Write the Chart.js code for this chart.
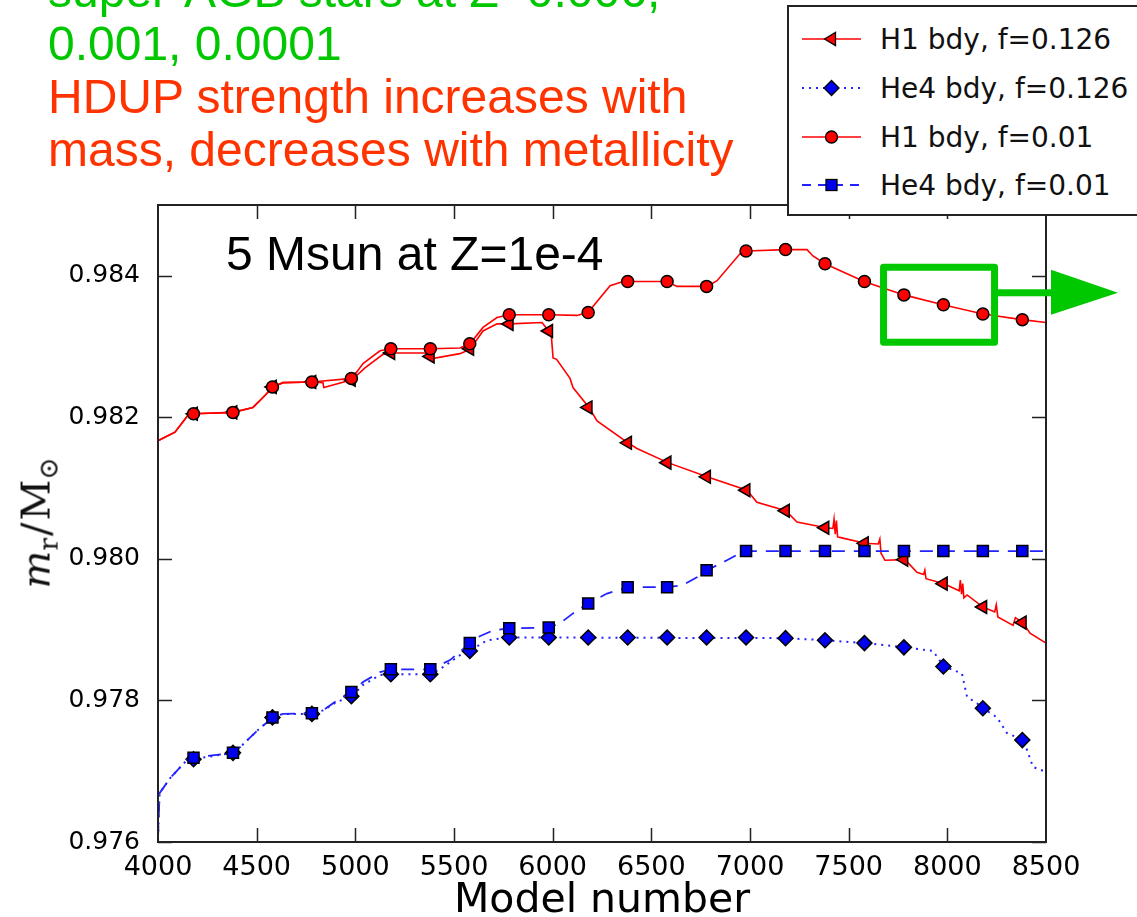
<!DOCTYPE html>
<html>
<head>
<meta charset="utf-8">
<script src="https://cdn.jsdelivr.net/npm/chart.js@4.4.1/dist/chart.umd.min.js"></script>
<style>
html,body{margin:0;padding:0;background:#fff;width:1137px;height:917px;overflow:hidden;}
#wrap{position:relative;width:1137px;height:917px;overflow:hidden;}
#c{position:absolute;left:0;top:0;}
#notes{position:absolute;left:48px;top:-36px;font-family:'Liberation Sans',Arial,sans-serif;font-size:48px;line-height:53px;white-space:nowrap;}
.g{color:#00c800;}
.r{color:#ff3300;}
#inplot{position:absolute;left:226px;top:230px;font-family:'Liberation Sans',Arial,sans-serif;font-size:48px;line-height:48px;color:#000;white-space:nowrap;}
#ylab{position:absolute;left:38px;top:523px;transform:translate(-50%,-50%) rotate(-90deg);font-family:'DejaVu Serif',serif;font-size:40px;white-space:nowrap;color:#111;}
#ylab sub{font-size:0.66em;vertical-align:-0.3em;}
#ylab .sl{margin:0 2px;}
#legend{position:absolute;left:787px;top:5px;width:400px;height:207px;border:2px solid #222;background:#fff;}
.lrow{position:absolute;left:0;height:40px;display:flex;align-items:center;}
.lrow svg{margin-left:13px;margin-right:19px;}
.lrow span{font-family:'DejaVu Sans',sans-serif;font-size:28px;color:#111;white-space:nowrap;}
</style>
</head>
<body>
<div id="wrap">
<canvas id="c" width="1137" height="917"></canvas>
<div id="notes"><span class="g">super-AGB stars at Z=0.006,</span><br><span class="g">0.001, 0.0001</span><br><span class="r">HDUP strength increases with</span><br><span class="r">mass, decreases with metallicity</span></div>
<div id="inplot">5 Msun at Z=1e-4</div>
<div id="ylab"><i>m</i><sub>r</sub><span class="sl">/</span>M<sub>⊙</sub></div>
<div id="legend"></div>
</div>
<script>
// ---------- data ----------
const seriesNames = ['H1 bdy, f=0.126', 'He4 bdy, f=0.126', 'H1 bdy, f=0.01', 'He4 bdy, f=0.01'];
const xTicks = [4000, 4500, 5000, 5500, 6000, 6500, 7000, 7500, 8000, 8500];
const yTicks = [0.976, 0.978, 0.980, 0.982, 0.984];

const markerModels = [4180,4380,4580,4780,4980,5180,5380,5580,5780,5980,6180,6380,6580,6780,6980,7180,7380,7580,7780,7980,8180,8380];

const h1_f0126_markers = [0.98205,0.98207,0.98243,0.98250,0.98253,0.98291,0.98286,0.98297,0.98332,0.98322,0.98214,0.98164,0.98136,0.98116,0.98097,0.98068,0.98044,0.98022,0.97999,0.97965,0.97932,0.97910];
const he4_f0126_markers = [0.97717,0.97726,0.97776,0.97781,0.97806,0.97837,0.97837,0.97870,0.97889,0.97889,0.97889,0.97889,0.97889,0.97889,0.97889,0.97888,0.97885,0.97881,0.97875,0.97848,0.97789,0.97744];
const h1_f001_markers = [0.98205,0.98207,0.98243,0.98250,0.98255,0.98297,0.98297,0.98304,0.98345,0.98345,0.98348,0.98392,0.98392,0.98385,0.98435,0.98437,0.98417,0.98392,0.98373,0.98359,0.98346,0.98338];
const he4_f001_markers = [0.97719,0.97726,0.97776,0.97782,0.97812,0.97844,0.97844,0.97881,0.97902,0.97903,0.97937,0.97960,0.97960,0.97984,0.98011,0.98011,0.98011,0.98011,0.98011,0.98011,0.98011,0.98011];

const h1_f0126_line = [[4000,0.98167],[4086,0.98179],[4152,0.98203],[4180,0.98205],[4380,0.98207],[4481,0.98214],[4532,0.98228],[4583,0.98243],[4633,0.98249],[4780,0.98250],[4836,0.98249],[4840,0.98242],[4983,0.98253],[5049,0.98270],[5140,0.98289],[5181,0.98291],[5353,0.98291],[5389,0.98283],[5530,0.98290],[5581,0.98296],[5647,0.98322],[5718,0.98332],[5779,0.98332],[5946,0.98334],[5971,0.98325],[5992,0.98320],[6002,0.98284],[6020,0.98282],[6088,0.98255],[6103,0.98242],[6184,0.98214],[6225,0.98195],[6382,0.98164],[6427,0.98156],[6584,0.98136],[6782,0.98116],[6985,0.98097],[7035,0.98080],[7182,0.98068],[7238,0.98052],[7385,0.98044],[7420,0.98043],[7426,0.98056],[7432,0.98035],[7438,0.98054],[7444,0.98031],[7460,0.98030],[7583,0.98022],[7650,0.98021],[7658,0.98028],[7664,0.98008],[7684,0.97998],[7786,0.97999],[7846,0.97981],[7880,0.97978],[7886,0.97984],[7892,0.97972],[7983,0.97965],[8060,0.97955],[8066,0.97970],[8072,0.97950],[8078,0.97965],[8084,0.97945],[8100,0.97949],[8181,0.97932],[8240,0.97925],[8248,0.97935],[8256,0.97918],[8333,0.97906],[8345,0.97917],[8383,0.97910],[8419,0.97895],[8500,0.97881]];
const he4_f0126_line = [[4000,0.97605],[4008,0.97669],[4061,0.97690],[4147,0.97716],[4180,0.97717],[4380,0.97726],[4416,0.97734],[4517,0.97761],[4583,0.97776],[4633,0.97781],[4780,0.97781],[4836,0.97786],[4907,0.97798],[4983,0.97806],[5039,0.97822],[5125,0.97836],[5181,0.97837],[5383,0.97837],[5444,0.97847],[5546,0.97867],[5581,0.97870],[5667,0.97885],[5779,0.97889],[7182,0.97888],[7385,0.97885],[7583,0.97881],[7786,0.97875],[7927,0.97870],[7983,0.97848],[8074,0.97838],[8100,0.97805],[8150,0.97796],[8181,0.97789],[8252,0.97776],[8302,0.97754],[8383,0.97744],[8404,0.97730],[8434,0.97706],[8500,0.97699]];
const h1_f001_line = [[4000,0.98167],[4086,0.98179],[4152,0.98203],[4180,0.98205],[4380,0.98207],[4481,0.98214],[4532,0.98228],[4583,0.98243],[4633,0.98249],[4780,0.98250],[4983,0.98255],[5039,0.98276],[5125,0.98294],[5181,0.98297],[5383,0.98297],[5530,0.98298],[5581,0.98304],[5647,0.98327],[5718,0.98341],[5779,0.98345],[5981,0.98345],[6123,0.98344],[6179,0.98348],[6291,0.98386],[6357,0.98392],[6579,0.98392],[6630,0.98385],[6782,0.98385],[6833,0.98393],[6949,0.98431],[6980,0.98435],[7182,0.98437],[7289,0.98437],[7319,0.98428],[7380,0.98417],[7578,0.98392],[7780,0.98373],[7978,0.98359],[8181,0.98346],[8378,0.98338],[8500,0.98334]];
const he4_f001_line = [[4000,0.97605],[4008,0.97669],[4061,0.97690],[4147,0.97716],[4180,0.97719],[4380,0.97726],[4416,0.97734],[4517,0.97761],[4583,0.97776],[4633,0.97781],[4780,0.97782],[4836,0.97786],[4907,0.97800],[4983,0.97812],[5039,0.97826],[5125,0.97840],[5181,0.97844],[5383,0.97844],[5480,0.97857],[5581,0.97881],[5617,0.97889],[5698,0.97899],[5779,0.97902],[5981,0.97903],[6037,0.97909],[6103,0.97923],[6179,0.97937],[6275,0.97951],[6382,0.97960],[6579,0.97960],[6660,0.97963],[6731,0.97974],[6782,0.97984],[6883,0.97998],[6949,0.98008],[6980,0.98011],[8500,0.98011]];

// ---------- styles ----------
const RED = '#ff0000', BLUE = '#0000f0', BLUE_LINE = '#2222ff';
const toXY = arr => arr.map(p => ({x: p[0], y: p[1]}));
const mk = vals => vals.map((v, i) => ({x: markerModels[i], y: v}));

function lineDS(data, color, dash, width, order) {
  return {data: toXY(data), borderColor: color, borderWidth: width, borderDash: dash,
    pointRadius: 0, pointHoverRadius: 0, fill: false, tension: 0, order: order};
}
function markDS(data, color, style, radius, rotation, order) {
  return {data: mk(data), showLine: false, pointStyle: style, pointRadius: radius, pointHoverRadius: radius,
    pointRotation: rotation, backgroundColor: color, pointBackgroundColor: color, pointBorderColor: '#000',
    pointBorderWidth: 1.5, borderColor: '#000', order: order};
}

const datasets = [
  lineDS(h1_f0126_line, RED, [], 1.6, 8),
  markDS(h1_f0126_markers, RED, 'triangle', 7.5, -90, 7),
  lineDS(he4_f0126_line, BLUE_LINE, [2, 5], 2, 6),
  markDS(he4_f0126_markers, BLUE, 'rectRot', 7.5, 0, 5),
  lineDS(h1_f001_line, RED, [], 1.6, 4),
  markDS(h1_f001_markers, RED, 'circle', 6, 0, 3),
  lineDS(he4_f001_line, BLUE_LINE, [13, 9], 1.8, 2),
  markDS(he4_f001_markers, BLUE, 'rect', 7.8, 0, 1)
];

// frame, inward ticks, green highlight box
const framePlugin = {
  id: 'frame',
  afterDraw(chart) {
    const ctx = chart.ctx, a = chart.chartArea;
    const xs = chart.scales.x, ys = chart.scales.y;
    ctx.save();
    ctx.strokeStyle = '#222';
    ctx.lineWidth = 1.5;
    const tl = 14;
    ctx.beginPath();
    xTicks.forEach(v => {
      const px = Math.round(xs.getPixelForValue(v)) + 0.5;
      if (v === xTicks[0] || v === xTicks[xTicks.length - 1]) return;
      ctx.moveTo(px, a.bottom); ctx.lineTo(px, a.bottom - tl);
      ctx.moveTo(px, a.top); ctx.lineTo(px, a.top + tl);
    });
    yTicks.forEach(v => {
      const py = Math.round(ys.getPixelForValue(v)) + 0.5;
      ctx.moveTo(a.left, py); ctx.lineTo(a.left + tl, py);
      ctx.moveTo(a.right, py); ctx.lineTo(a.right - tl, py);
    });
    ctx.stroke();
    ctx.lineWidth = 2;
    ctx.strokeRect(a.left, a.top, a.right - a.left, a.bottom - a.top);

    // green highlight box + arrow
    const bx1 = xs.getPixelForValue(7659), bx2 = xs.getPixelForValue(8257);
    const by1 = ys.getPixelForValue(0.98417), by2 = ys.getPixelForValue(0.98301);
    ctx.strokeStyle = '#00c800';
    ctx.fillStyle = '#00c800';
    ctx.lineWidth = 7;
    ctx.lineJoin = 'round';
    ctx.strokeRect(bx1 + 3.5, by1 + 3.5, bx2 - bx1 - 7, by2 - by1 - 7);
    const ay = ys.getPixelForValue(0.98376);
    ctx.fillRect(bx2 - 2, ay - 3.5, 1052 - bx2 + 2, 7);
    ctx.beginPath();
    ctx.moveTo(1051, ay - 23);
    ctx.lineTo(1118, ay);
    ctx.lineTo(1051, ay + 22);
    ctx.closePath();
    ctx.fill();
    ctx.restore();
  }
};

Chart.defaults.font.family = "'DejaVu Sans', sans-serif";
Chart.defaults.color = '#000';

new Chart(document.getElementById('c'), {
  type: 'line',
  data: {datasets},
  options: {
    responsive: false,
    animation: false,
    devicePixelRatio: 1,
    layout: {padding: {left: 0, top: 205, right: 91, bottom: 0}},
    plugins: {legend: {display: false}, tooltip: {enabled: false}},
    scales: {
      x: {
        type: 'linear', min: 4000, max: 8500,
        afterFit: s => { s.height = 75; },
        afterBuildTicks: s => { s.ticks = xTicks.map(v => ({value: v})); },
        grid: {display: false, drawTicks: false},
        border: {display: false},
        ticks: {padding: 10, font: {size: 27}, color: '#000', maxRotation: 0, autoSkip: false,
          callback: v => String(v)},
        title: {display: true, text: 'Model number', font: {size: 41, lineHeight: 0.72}, color: '#000', padding: {top: 0, bottom: 1}}
      },
      y: {
        type: 'linear', min: 0.976, max: 0.985,
        afterFit: s => { s.width = 158; },
        afterBuildTicks: s => { s.ticks = yTicks.map(v => ({value: v})); },
        grid: {display: false, drawTicks: false},
        border: {display: false},
        ticks: {padding: 18, font: {size: 25}, color: '#000', autoSkip: false,
          callback: v => v.toFixed(3)}
      }
    }
  },
  plugins: [framePlugin]
});

// ---------- legend ----------
const legendSamples = [
  '<line x1="0" y1="10" x2="59" y2="10" stroke="#ff0000" stroke-width="1.6"/><polygon points="22.5,10 33.5,3.5 33.5,16.5" fill="#ff0000" stroke="#000" stroke-width="1.3"/>',
  '<line x1="0" y1="10" x2="59" y2="10" stroke="#2222ff" stroke-width="2" stroke-dasharray="2,5"/><polygon points="29.5,2.5 37,10 29.5,17.5 22,10" fill="#0000f0" stroke="#000" stroke-width="1.3"/>',
  '<line x1="0" y1="10" x2="59" y2="10" stroke="#ff0000" stroke-width="1.6"/><circle cx="29.5" cy="10" r="6" fill="#ff0000" stroke="#000" stroke-width="1.3"/>',
  '<line x1="0" y1="10" x2="59" y2="10" stroke="#2222ff" stroke-width="1.8" stroke-dasharray="9,7"/><rect x="24" y="4.5" width="11" height="11" fill="#0000f0" stroke="#000" stroke-width="1.3"/>'
];
const legendRowCenters = [32, 81, 130, 178];
const leg = document.getElementById('legend');
seriesNames.forEach((name, i) => {
  const row = document.createElement('div');
  row.className = 'lrow';
  row.style.top = (legendRowCenters[i] - 20) + 'px';
  row.innerHTML = '<svg width="59" height="20" viewBox="0 0 59 20">' + legendSamples[i] + '</svg><span></span>';
  row.querySelector('span').textContent = name;
  leg.appendChild(row);
});
</script>
</body>
</html>
